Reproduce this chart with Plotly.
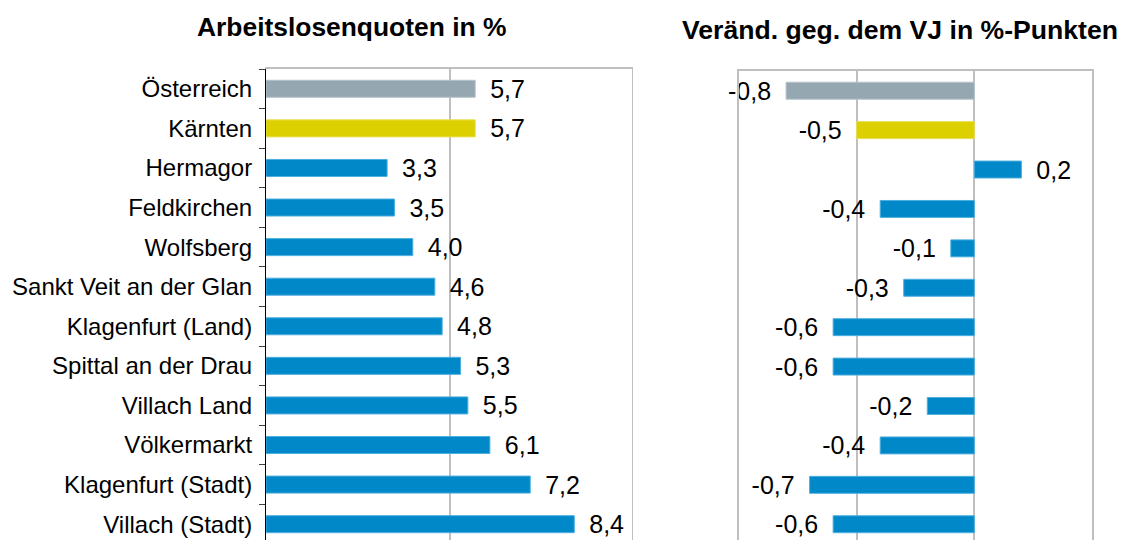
import plotly.graph_objects as go

categories = ["Österreich", "Kärnten", "Hermagor", "Feldkirchen", "Wolfsberg",
              "Sankt Veit an der Glan", "Klagenfurt (Land)", "Spittal an der Drau",
              "Villach Land", "Völkermarkt", "Klagenfurt (Stadt)", "Villach (Stadt)"]
quote = [5.7, 5.7, 3.3, 3.5, 4.0, 4.6, 4.8, 5.3, 5.5, 6.1, 7.2, 8.4]
change = [-0.8, -0.5, 0.2, -0.4, -0.1, -0.3, -0.6, -0.6, -0.2, -0.4, -0.7, -0.6]
title_left = "Arbeitslosenquoten in %"
title_right = "Veränd. geg. dem VJ in %-Punkten"

GRAY, YELLOW, BLUE = "#95A7B0", "#DDD000", "#0088C8"
colors = [GRAY, YELLOW] + [BLUE] * (len(categories) - 2)
edge = ["#B5C3CA", "#E8DE50"] + ["#4DAFDF"] * (len(categories) - 2)
FONT = "Liberation Sans, Arial, sans-serif"
GRID = "#BFBFBF"
PAD = " \u2009"

fig = go.Figure()
fig.add_trace(go.Bar(
    x=quote, y=categories, orientation="h", xaxis="x", yaxis="y",
    marker=dict(color=colors, line=dict(color=edge, width=1)), width=0.43,
    texttemplate=PAD + "%{x:.1f}", textposition="outside", cliponaxis=False,
    constraintext="none",
    textfont=dict(size=25, color="black", family=FONT), showlegend=False,
    hoverinfo="skip"))
fig.add_trace(go.Bar(
    x=change, y=categories, orientation="h", xaxis="x2", yaxis="y2",
    marker=dict(color=colors, line=dict(color=edge, width=1)), width=0.43,
    texttemplate=["%{x:.1f}" + PAD if v < 0 else PAD + "%{x:.1f}" for v in change],
    textposition="outside", cliponaxis=False, constraintext="none",
    textfont=dict(size=25, color="black", family=FONT), showlegend=False,
    hoverinfo="skip"))

W, H = 1123, 540
x_range = [0, 10]
fig.update_layout(
    width=W, height=H, margin=dict(l=0, r=0, t=0, b=0),
    paper_bgcolor="white", plot_bgcolor="white",
    separators=",.", font=dict(family=FONT, color="black"),
    xaxis=dict(domain=[266 / W, 633 / W], range=x_range, dtick=5, side="top",
               showgrid=True, gridcolor=GRID, gridwidth=2, zeroline=False,
               showline=True, linecolor=GRID, linewidth=2,
               showticklabels=False, ticks=""),
    yaxis=dict(domain=[0, 1 - 69 / H], categoryorder="array", categoryarray=categories,
               range=[11.40, -0.5], showline=True, linecolor="black", linewidth=1,
               ticks="outside", tickson="boundaries", ticklen=6, tickcolor="#404040",
               tickfont=dict(size=24, color="black", family=FONT),
               ticklabelstandoff=8, showgrid=False, zeroline=False),
    xaxis2=dict(domain=[739 / W, 1092 / W], range=[-1, 0.5], dtick=0.5, side="top",
                anchor="y2", showgrid=True, gridcolor=GRID, gridwidth=2, zeroline=False,
                showline=True, linecolor=GRID, linewidth=2,
                showticklabels=False, ticks=""),
    yaxis2=dict(domain=[0, 1 - 71 / H], anchor="x2", matches="y", categoryorder="array",
                categoryarray=categories, showticklabels=False, showline=True,
                mirror=True, linecolor=GRID, linewidth=2,
                showgrid=False, zeroline=False, ticks=""),
    bargap=0.5,
    shapes=[dict(type="line", xref="x", yref="paper", x0=x_range[1], x1=x_range[1],
                 y0=0, y1=1 - 69 / H, line=dict(color=GRID, width=2), layer="below")],
    annotations=[
        dict(text="<b>" + title_left + "</b>", x=351 / W, y=1 - 27 / H, xref="paper",
             yref="paper", showarrow=False, font=dict(size=26.4, family=FONT, color="black"),
             xanchor="center", yanchor="middle"),
        dict(text="<b>" + title_right + "</b>", x=900 / W, y=1 - 30 / H, xref="paper",
             yref="paper", showarrow=False, font=dict(size=26.6, family=FONT, color="black"),
             xanchor="center", yanchor="middle"),
    ],
)

fig.write_html("out.html", config={"displayModeBar": False},
               post_script="document.body.style.margin='0';document.body.style.overflow='hidden';")
